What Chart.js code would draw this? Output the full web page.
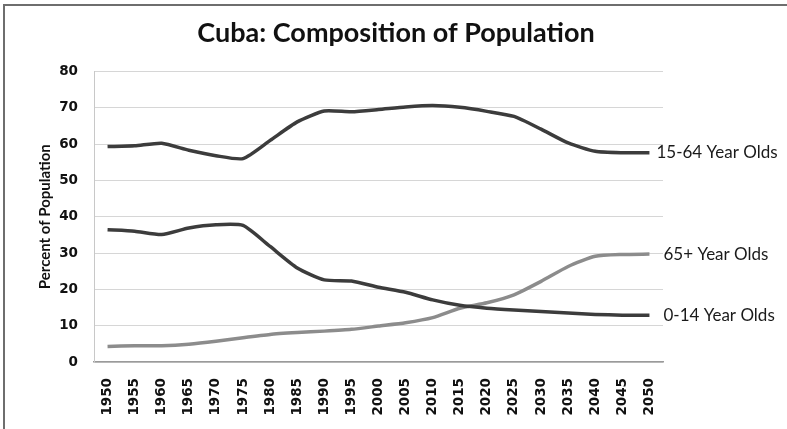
<!DOCTYPE html>
<html lang="en">

<head>
    <meta charset="UTF-8">
    <title>Cuba: Composition of Population</title>
    <script src="https://cdn.jsdelivr.net/npm/chart.js"></script>
    <style>
        body {
            margin: 0;
            background: #fff;
        }
        #chart-container {
            width: 787px;
            height: 429px;
        }
    </style>
</head>

<body>
    <div id="chart-container">
        <canvas id="popChart"></canvas>
    </div>

    <script>
        const years = ['1950', '1955', '1960', '1965', '1970', '1975', '1980', '1985', '1990', '1995', '2000',
            '2005', '2010', '2015', '2020', '2025', '2030', '2035', '2040', '2045', '2050'];
        const age15to64 = [59.3, 59.5, 60.2, 58.3, 56.8, 56.0, 61.0, 66.1, 69.1, 68.9, 69.5,
            70.2, 70.6, 70.1, 69.0, 67.6, 64.1, 60.3, 58.0, 57.6, 57.6];
        const age0to14 = [36.4, 36.0, 35.1, 36.9, 37.8, 37.6, 31.8, 25.9, 22.6, 22.3, 20.6,
            19.2, 17.1, 15.6, 14.8, 14.3, 13.9, 13.5, 13.1, 12.9, 12.9];
        const age65plus = [4.3, 4.5, 4.5, 4.9, 5.7, 6.7, 7.6, 8.1, 8.5, 9.0, 9.9,
            10.8, 12.2, 14.8, 16.3, 18.5, 22.2, 26.3, 29.1, 29.6, 29.7];
        const seriesNames = ['15-64 Year Olds', '0-14 Year Olds', '65+ Year Olds'];
        const yTicks = [0, 10, 20, 30, 40, 50, 60, 70, 80];

        // frame round the picture, like the scanned original
        const framePlugin = {
            id: 'frame',
            beforeDraw(chart) {
                const c = chart.ctx;
                c.save();
                c.fillStyle = '#fff';
                c.fillRect(0, 0, chart.width, chart.height);
                c.strokeStyle = '#6e6e6e';
                c.lineWidth = 2;
                c.beginPath();
                c.moveTo(4, chart.height);
                c.lineTo(4, 5);
                c.lineTo(chart.width, 5);
                c.stroke();
                c.restore();
            }
        };

        // series names written after the last point of each line
        const endLabels = {
            id: 'endLabels',
            afterDatasetsDraw(chart) {
                const c = chart.ctx;
                const gap = [7, 14, 14];
                c.save();
                c.font = '17px Lato';
                c.fillStyle = '#1a1a1a';
                c.textBaseline = 'middle';
                chart.data.datasets.forEach((ds, i) => {
                    const pts = chart.getDatasetMeta(i).data;
                    const last = pts[pts.length - 1];
                    c.fillText(ds.label, last.x + gap[i], last.y);
                });
                c.restore();
            }
        };

        const ctx = document.getElementById('popChart').getContext('2d');
        const popChart = new Chart(ctx, {
            type: 'line',
            data: {
                labels: years,
                datasets: [{
                    label: seriesNames[0],
                    data: age15to64,
                    borderColor: '#3c3c3c',
                    borderWidth: 3.5
                }, {
                    label: seriesNames[1],
                    data: age0to14,
                    borderColor: '#3c3c3c',
                    borderWidth: 3.5
                }, {
                    label: seriesNames[2],
                    data: age65plus,
                    borderColor: '#8c8c8c',
                    borderWidth: 3.5
                }]
            },
            plugins: [framePlugin, endLabels],
            options: {
                responsive: true,
                maintainAspectRatio: false,
                animation: false,
                layout: {
                    padding: { left: 5, right: 0, top: 0, bottom: 0 }
                },
                elements: {
                    point: { radius: 0 },
                    line: { tension: 0.2 }
                },
                plugins: {
                    legend: { display: false },
                    tooltip: { enabled: false },
                    title: {
                        display: true,
                        text: 'Cuba: Composition of Population',
                        color: '#111',
                        font: { family: 'Lato', size: 27, weight: 'bold' },
                        padding: { top: 17, bottom: 22 }
                    }
                },
                scales: {
                    x: {
                        offset: true,
                        grid: { display: false },
                        border: { display: true, color: '#9a9a9a', width: 1.5 },
                        ticks: {
                            minRotation: 90,
                            maxRotation: 90,
                            padding: 8,
                            color: '#111',
                            font: { family: 'DejaVu Sans', size: 13.5, weight: 'bold' }
                        },
                        afterFit(scale) {
                            scale.height = 67;
                        }
                    },
                    y: {
                        min: 0,
                        max: 80,
                        afterBuildTicks(scale) {
                            scale.ticks = yTicks.map(v => ({ value: v }));
                        },
                        grid: { color: '#d6d6d6', drawTicks: false },
                        border: { display: true, color: '#c8c8c8' },
                        ticks: {
                            padding: 16,
                            color: '#111',
                            font: { family: 'DejaVu Sans', size: 13.5, weight: 'bold' }
                        },
                        title: {
                            display: true,
                            text: 'Percent of Population',
                            color: '#111',
                            font: { family: 'Lato', size: 15, weight: 'bold' },
                            padding: { top: 31, bottom: 0 }
                        },
                        afterFit(scale) {
                            scale.width = 89;
                        }
                    },
                    // empty axis on the right, keeps room for the series names
                    yRight: {
                        position: 'right',
                        display: true,
                        grid: { display: false, drawTicks: false },
                        border: { display: false },
                        ticks: { display: false },
                        afterFit(scale) {
                            scale.width = 124;
                        }
                    }
                }
            }
        });
    </script>
</body>

</html>
